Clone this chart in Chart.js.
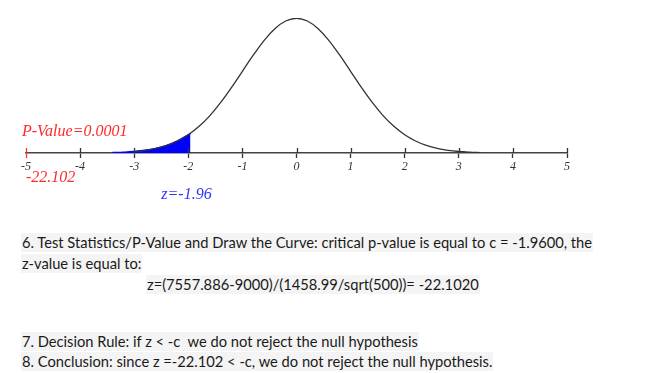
<!DOCTYPE html>
<html>
<head>
<meta charset="utf-8">
<script src="https://cdn.jsdelivr.net/npm/chart.js@4.4.1/dist/chart.umd.min.js"></script>
<style>
  body { margin: 0; background: #fff; width: 650px; height: 373px; overflow: hidden; position: relative; }
  #curveChart { position: absolute; left: 0; top: 0; }
  .line {
    position: absolute; left: 21px; font-family: Lato, "Open Sans", sans-serif;
    font-size: 14.7px; color: #1a1a1a; white-space: pre; line-height: 19px;
    background: #f4f4f4; padding: 0 1px;
  }
</style>
</head>
<body>
<canvas id="curveChart" width="650" height="215"></canvas>

<div class="line" id="l6" style="top:233px;">6. Test Statistics/P-Value and Draw the Curve: critical p-value is equal to c = -1.9600, the</div>
<div class="line" id="l6b" style="top:254px;">z-value is equal to:</div>
<div class="line" id="l6c" style="top:275px; left:146px;">z=(7557.886-9000)/(1458.99/sqrt(500))= -22.1020</div>
<div class="line" id="l7" style="top:332px;">7. Decision Rule: if z &lt; -c  we do not reject the null hypothesis</div>
<div class="line" id="l8" style="top:352px;">8. Conclusion: since z =-22.102 &lt; -c, we do not reject the null hypothesis.</div>

<script>
// normal curve
var curveZ = [-3.0, -2.8, -2.6, -2.4, -2.2, -2.0, -1.8, -1.6, -1.4, -1.2, -1.0, -0.8, -0.6, -0.4, -0.2,
              0, 0.2, 0.4, 0.6, 0.8, 1.0, 1.2, 1.4, 1.6, 1.8, 2.0, 2.2, 2.4, 2.6, 2.8, 3.0, 3.2, 3.4];
var curveDensity = [0.0044, 0.0079, 0.0136, 0.0224, 0.0355, 0.0540, 0.0790, 0.1109, 0.1497, 0.1942, 0.2420, 0.2897, 0.3332, 0.3683, 0.3910,
                    0.3989, 0.3910, 0.3683, 0.3332, 0.2897, 0.2420, 0.1942, 0.1497, 0.1109, 0.0790, 0.0540, 0.0355, 0.0224, 0.0136, 0.0079, 0.0044, 0.0024, 0.0012];

// shaded left tail up to the critical value
var tailZ = [-3.4, -3.2, -3.0, -2.8, -2.6, -2.4, -2.2, -2.0, -1.96];
var tailDensity = [0.0012, 0.0024, 0.0044, 0.0079, 0.0136, 0.0224, 0.0355, 0.0540, 0.0584];

var tickValues = [-5, -4, -3, -2, -1, 0, 1, 2, 3, 4, 5];
var criticalZ = -1.96;
var pValueText = 'P-Value=0.0001';
var zStatText = '-22.102';
var critText = 'z=-1.96';

function toPoints(xs, ys) {
    var pts = [];
    for (var i = 0; i < xs.length; i++) {
        pts.push({ x: xs[i], y: ys[i] });
    }
    return pts;
}

// upper half of tick marks plus the red / blue notes
var notesPlugin = {
    id: 'notes',
    afterDraw: function(chart) {
        var ctx = chart.ctx;
        var xs = chart.scales.x;
        var axisY = chart.chartArea.bottom;
        ctx.save();
        ctx.lineWidth = 1.3;
        tickValues.forEach(function(v) {
            var px = Math.round(xs.getPixelForValue(v)) + 0.5;
            ctx.strokeStyle = v === -5 ? '#ff3030' : '#333';
            ctx.beginPath();
            ctx.moveTo(px, axisY - 5);
            ctx.lineTo(px, axisY);
            ctx.stroke();
        });

        ctx.font = 'italic 16px "Liberation Serif", serif';
        ctx.textBaseline = 'middle';
        ctx.fillStyle = '#ff2a2a';
        ctx.textAlign = 'left';
        ctx.fillText(pValueText, 22, 132);
        ctx.fillText(zStatText, xs.getPixelForValue(-5), 178);

        ctx.fillStyle = '#3333ff';
        ctx.textAlign = 'center';
        ctx.fillText(critText, xs.getPixelForValue(criticalZ) - 4, 195);
        ctx.restore();
    }
};

var ctx = document.getElementById('curveChart').getContext('2d');
var chart = new Chart(ctx, {
    type: 'line',
    data: {
        datasets: [{
            label: 'curve',
            data: toPoints(curveZ, curveDensity),
            borderColor: '#333',
            borderWidth: 1.3,
            pointRadius: 0,
            tension: 0.4,
            fill: false,
            order: 0
        }, {
            label: 'tail',
            data: toPoints(tailZ, tailDensity),
            borderColor: '#0000ff',
            backgroundColor: '#0000ff',
            borderWidth: 1.5,
            pointRadius: 0,
            tension: 0.4,
            fill: 'origin',
            order: 1
        }]
    },
    options: {
        responsive: false,
        animation: false,
        layout: { padding: { left: 26, right: 83, top: 18, bottom: 0 } },
        plugins: { legend: { display: false }, tooltip: { enabled: false } },
        scales: {
            x: {
                type: 'linear',
                min: -5,
                max: 5,
                afterBuildTicks: function(scale) {
                    scale.ticks = tickValues.map(function(v) { return { value: v }; });
                },
                afterFit: function(scale) { scale.height = 62; },
                border: { display: true, color: '#444', width: 1.5 },
                grid: {
                    drawOnChartArea: false,
                    tickLength: 5,
                    tickWidth: 1.3,
                    tickColor: function(c) { return c.tick && c.tick.value === -5 ? '#ff3030' : '#333'; }
                },
                ticks: {
                    padding: 2,
                    maxRotation: 0,
                    color: '#333',
                    font: { family: '"Liberation Serif", serif', style: 'italic', size: 12 },
                    callback: function(v) { return String(v); }
                }
            },
            y: {
                display: false,
                min: 0,
                max: 0.4
            }
        }
    },
    plugins: [notesPlugin]
});
</script>
</body>
</html>
